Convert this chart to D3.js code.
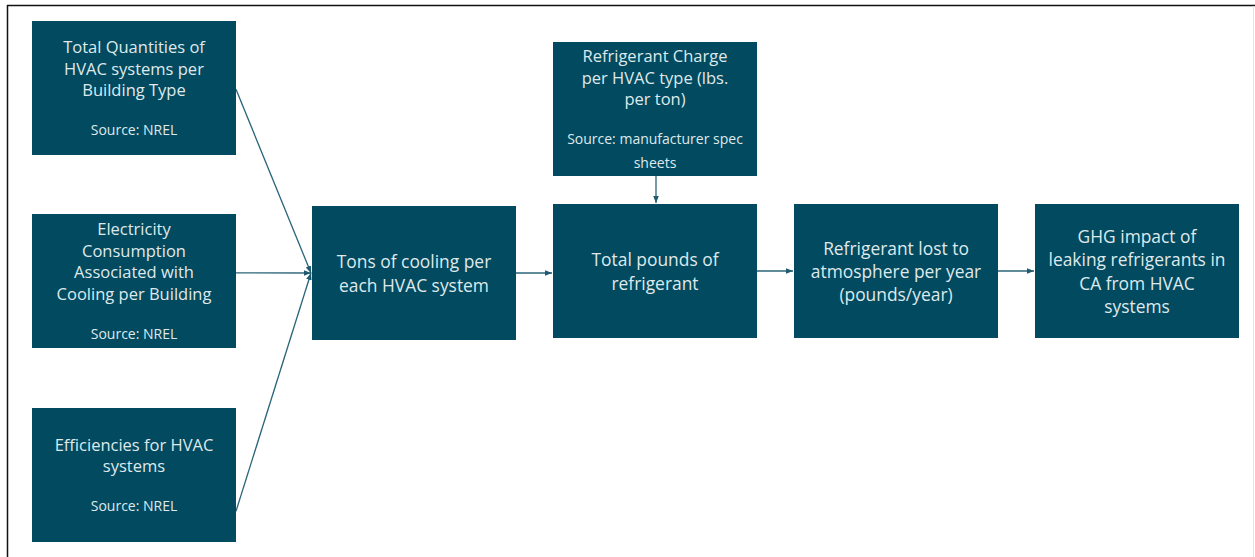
<!DOCTYPE html>
<html>
<head>
	<meta charset="utf-8">
	<title>HVAC refrigerant flow</title>
	<style type="text/css">
		html, body {
			margin: 0;
			padding: 0;
			background: #fff;
		}

		.box {
			fill: #024a5f;
		}

		.label {
			fill: #dfe9ec;
			font-family: "Open Sans", "Noto Sans", sans-serif;
			text-anchor: middle;
			dominant-baseline: central;
		}

		.link {
			stroke: #2a6479;
			stroke-width: 1.3;
			fill: none;
		}
	</style>
</head>
<body>
	<div id="chart"></div>
	<script src="https://d3js.org/d3.v7.min.js"></script>
	<script type="text/javascript">
		// node ids, their column / row and their text
		var nodeIds = ["qty", "elec", "eff", "tons", "charge", "pounds", "lost", "ghg"];
		var nodeColumns = ["inputs", "inputs", "inputs", "tons", "pounds", "pounds", "lost", "ghg"];
		var nodeRows = ["top", "middle", "bottom", "middle", "upper", "middle", "middle", "middle"];
		var nodeTitles = [
			["Total Quantities of", "HVAC systems per", "Building Type"],
			["Electricity", "Consumption", "Associated with", "Cooling per Building"],
			["Efficiencies for HVAC", "systems"],
			["Tons of cooling per", "each HVAC system"],
			["Refrigerant Charge", "per HVAC type (lbs.", "per ton)"],
			["Total pounds of", "refrigerant"],
			["Refrigerant lost to", "atmosphere per year", "(pounds/year)"],
			["GHG impact of", "leaking refrigerants in", "CA from HVAC", "systems"]
		];
		var nodeSources = [
			["Source: NREL"],
			["Source: NREL"],
			["Source: NREL"],
			[],
			["Source: manufacturer spec", "sheets"],
			[],
			[],
			[]
		];

		// arrows between boxes
		var linkSources = ["qty", "elec", "eff", "tons", "charge", "pounds", "lost"];
		var linkTargets = ["tons", "tons", "tons", "pounds", "pounds", "lost", "ghg"];

		var width = 1255,
			height = 557,
			boxW = 204,
			boxH = 134;

		var x = d3.scaleOrdinal()
			.domain(["inputs", "tons", "pounds", "lost", "ghg"])
			.range([32, 312, 553, 794, 1035]);

		var y = d3.scaleOrdinal()
			.domain(["top", "upper", "middle", "bottom"])
			.range([21, 42, 205, 408]);

		// small per-box nudges seen in the picture
		var yNudge = { elec: 9, tons: 1, pounds: -1, lost: -1, ghg: -1 };
		var exitY = { qty: 0.51, elec: 0.44, eff: 0.77 };

		var nodes = nodeIds.map(function(id, i) {
			var nx = x(nodeColumns[i]),
				ny = y(nodeRows[i]) + (yNudge[id] || 0);
			return {
				id: id,
				x: nx,
				y: ny,
				title: nodeTitles[i],
				source: nodeSources[i],
				input: nodeColumns[i] === "inputs"
			};
		});
		var byId = {};
		nodes.forEach(function(n) { byId[n.id] = n; });

		var svg = d3.select('#chart')
			.append('svg')
			.attr('width', width)
			.attr('height', height);

		var defs = svg.append('defs');
		defs.append('marker')
			.attr('id', 'head')
			.attr('markerUnits', 'userSpaceOnUse')
			.attr('viewBox', '0 0 10 10')
			.attr('refX', 10)
			.attr('refY', 5)
			.attr('markerWidth', 7)
			.attr('markerHeight', 7)
			.attr('orient', 'auto')
			.append('path')
			.attr('d', 'M0,1 L10,5 L0,9 Z')
			.attr('fill', '#1f5a70');

		// frame
		svg.append('line')
			.attr('x1', 7).attr('y1', 5.5).attr('x2', width).attr('y2', 5.5)
			.attr('stroke', '#111').attr('stroke-width', 1.5);
		svg.append('line')
			.attr('x1', 7.5).attr('y1', 5).attr('x2', 7.5).attr('y2', height)
			.attr('stroke', '#111').attr('stroke-width', 1.5);
		svg.append('line')
			.attr('x1', 1253.5).attr('y1', 6).attr('x2', 1253.5).attr('y2', height)
			.attr('stroke', '#e4e4e4').attr('stroke-width', 1);

		// links
		var links = linkSources.map(function(s, i) {
			return { source: byId[s], target: byId[linkTargets[i]] };
		});

		svg.selectAll('.link')
			.data(links)
			.enter()
			.append('line')
			.attr('class', 'link')
			.attr('marker-end', 'url(#head)')
			.each(function(d) {
				var s = d.source, t = d.target, x1, y1, x2, y2;
				if (s.x === t.x) {
					// vertical drop
					x1 = x2 = s.x + boxW / 2 + 1;
					y1 = s.y + boxH;
					y2 = t.y - 1;
				} else if (s.input) {
					x1 = s.x + boxW;
					y1 = s.y + boxH * exitY[s.id];
					x2 = t.x - 1;
					y2 = t.y + boxH / 2;
				} else {
					x1 = s.x + boxW;
					y1 = s.y + boxH / 2;
					x2 = t.x - 1;
					y2 = y1;
				}
				d3.select(this)
					.attr('x1', x1).attr('y1', y1)
					.attr('x2', x2).attr('y2', y2);
			});

		// boxes
		var g = svg.selectAll('.node')
			.data(nodes)
			.enter()
			.append('g')
			.attr('class', 'node')
			.attr('transform', function(d) { return 'translate(' + d.x + ',' + d.y + ')'; });

		g.append('rect')
			.attr('class', 'box')
			.attr('width', boxW)
			.attr('height', boxH);

		g.each(function(d) {
			var el = d3.select(this),
				small = d.input || d.id === 'charge',
				titleSize = small ? 16.5 : 17.4,
				titleGap = small ? 21.5 : 23.3,
				srcSize = 14,
				srcGap = 24,
				sep = 40,
				lines = [];

			d.title.forEach(function(t, i) {
				lines.push({ text: t, size: titleSize, dy: i === 0 ? 0 : titleGap });
			});
			d.source.forEach(function(t, i) {
				lines.push({ text: t, size: srcSize, dy: i === 0 ? sep : srcGap });
			});

			var pos = 0;
			lines.forEach(function(l) { pos += l.dy; l.y = pos; });
			var offset = boxH / 2 - pos / 2;

			el.selectAll('text')
				.data(lines)
				.enter()
				.append('text')
				.attr('class', 'label')
				.attr('x', boxW / 2)
				.attr('y', function(l) { return l.y + offset; })
				.style('font-size', function(l) { return l.size + 'px'; })
				.text(function(l) { return l.text; });
		});
	</script>
</body>
</html>
